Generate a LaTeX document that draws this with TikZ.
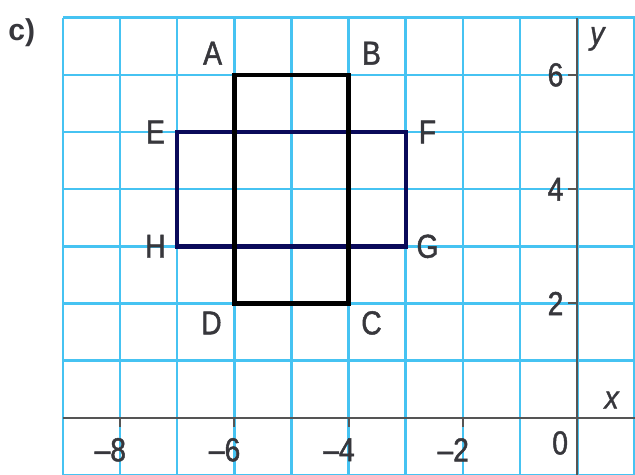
\documentclass[tikz,border=0pt]{standalone}
\usepackage{fontspec}
\setmainfont{Liberation Sans}
\newfontfamily\lblfont[FakeStretch=0.85,FakeBold=1.4]{Liberation Sans}
\newfontfamily\lblitfont[FakeStretch=0.9,FakeBold=1.0]{Liberation Sans Italic}
\definecolor{gridblue}{RGB}{70,195,242}
\definecolor{axisgray}{RGB}{85,85,85}
\definecolor{navyrect}{RGB}{10,10,90}
\definecolor{txtgray}{RGB}{55,55,60}
\begin{document}
\begin{tikzpicture}[
  gridline/.style={draw=gridblue, line width=1.3pt},
  axisline/.style={draw=axisgray, line width=1.1pt},
  tickline/.style={draw=axisgray, line width=1pt},
  lbl/.style={text=txtgray, font=\lblfont\fontsize{16.5}{17}\selectfont, inner sep=0pt},
  axlbl/.style={text=txtgray, font=\lblitfont\fontsize{16}{17}\selectfont, inner sep=0pt},
  rectblack/.style={draw=black, line width=2.3pt},
  rectnavy/.style={draw=navyrect, line width=2.2pt}
]
\useasboundingbox (-10.10,-1.00) rectangle (1.01,7.31);
% grid
\foreach \x in {-9,...,1} \draw[gridline] (\x,-1.1) -- (\x,7);
\foreach \y in {-1,...,7} \draw[gridline] (-9,\y) -- (1.1,\y);
% axes
\draw[axisline] (-9,0) -- (1.1,0);
\draw[axisline] (0,-1.1) -- (0,7);
\foreach \x in {-8,-6,-4,-2} \draw[tickline] (\x,0) -- (\x,-0.16);
\foreach \y in {2,4,6} \draw[tickline] (0,\y) -- (-0.16,\y);
% axis labels
\foreach \x/\t in {-8/8,-6/6,-4/4,-2/2} \node[lbl] (xl\t) at (\x-0.17,-0.56) {–\t};
\node[lbl] (zero) at (-0.3,-0.44) {0};
\node[lbl] (ysix) at (-0.38,6.0) {6};
\node[lbl] (yfour) at (-0.38,4.0) {4};
\node[lbl] (ytwo) at (-0.38,2.0) {2};
\node[axlbl] (ylab) at (0.35,6.63) {y};
\node[axlbl] (xlab) at (0.6,0.31) {x};
\node[text=txtgray, font=\bfseries\fontsize{15}{16}\selectfont, inner sep=0pt] (part) at (-9.72,6.74) {c)};
% shapes
\coordinate (A) at (-6,6);
\coordinate (B) at (-4,6);
\coordinate (C) at (-4,2);
\coordinate (D) at (-6,2);
\coordinate (E) at (-7,5);
\coordinate (F) at (-3,5);
\coordinate (G) at (-3,3);
\coordinate (H) at (-7,3);
\draw[rectnavy] (E) -- (F) -- (G) -- (H) -- cycle;
\draw[rectblack] (A) -- (B) -- (C) -- (D) -- cycle;
% point labels
\node[lbl] (lA) at (-6.38,6.38) {A};
\node[lbl] (lB) at (-3.6,6.38) {B};
\node[lbl] (lC) at (-3.6,1.66) {C};
\node[lbl] (lD) at (-6.4,1.66) {D};
\node[lbl] (lE) at (-7.38,5.0) {E};
\node[lbl] (lF) at (-2.62,5.0) {F};
\node[lbl] (lG) at (-2.62,3.0) {G};
\node[lbl] (lH) at (-7.38,3.0) {H};
\end{tikzpicture}
\end{document}
